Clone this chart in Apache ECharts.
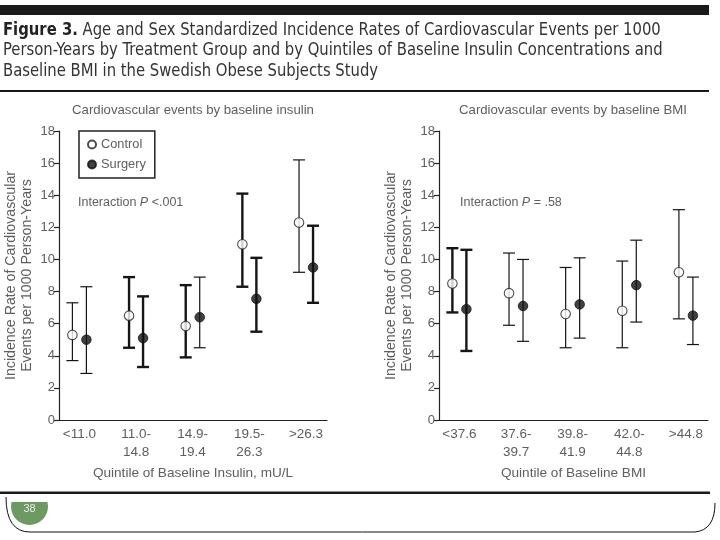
<!DOCTYPE html>
<html><head><meta charset="utf-8">
<script src="https://cdn.jsdelivr.net/npm/echarts@6/dist/echarts.min.js"></script>
<style>html,body{margin:0;padding:0;background:#fff}#c{width:720px;height:540px}</style>
</head><body><div id="c"></div>
<script>
// ---------------- data ----------------
const insulinCategories = ['<11.0', '11.0-\n14.8', '14.9-\n19.4', '19.5-\n26.3', '>26.3'];
const bmiCategories = ['<37.6', '37.6-\n39.7', '39.8-\n41.9', '42.0-\n44.8', '>44.8'];
const yTickValues = [0, 2, 4, 6, 8, 10, 12, 14, 16, 18];

const insulinControlRate = [5.3, 6.5, 5.85, 10.95, 12.3];
const insulinControlLow  = [3.7, 4.5, 3.9, 8.3, 9.2];
const insulinControlHigh = [7.3, 8.9, 8.4, 14.1, 16.2];
const insulinSurgeryRate = [5.0, 5.1, 6.4, 7.55, 9.5];
const insulinSurgeryLow  = [2.9, 3.3, 4.5, 5.5, 7.3];
const insulinSurgeryHigh = [8.3, 7.7, 8.9, 10.1, 12.1];

const bmiControlRate = [8.5, 7.9, 6.6, 6.8, 9.2];
const bmiControlLow  = [6.7, 5.9, 4.5, 4.5, 6.3];
const bmiControlHigh = [10.7, 10.4, 9.5, 9.9, 13.1];
const bmiSurgeryRate = [6.9, 7.1, 7.2, 8.4, 6.5];
const bmiSurgeryLow  = [4.3, 4.9, 5.1, 6.1, 4.7];
const bmiSurgeryHigh = [10.6, 10.0, 10.1, 11.2, 8.9];

const figureTitleLines = [
  '{b|Figure 3.} Age and Sex Standardized Incidence Rates of Cardiovascular Events per 1000',
  'Person-Years by Treatment Group and by Quintiles of Baseline Insulin Concentrations and',
  'Baseline BMI in the Swedish Obese Subjects Study'
];

// ---------------- styles ----------------
const FONT = '"Liberation Sans", Arial, sans-serif';
const TFONT = '"DejaVu Sans Condensed", "DejaVu Sans", sans-serif';
const TXT = '#5e5e5e';
const OFFSET = 7;      // px shift of each group from the category centre
const CAP = 6;         // half cap width, px
const wInsulinControl = [1.2, 2.4, 2.4, 2.4, 1.2];
const wInsulinSurgery = [1.2, 2.4, 1.2, 2.4, 2.4];
const wBmiControl = [2.4, 1.2, 1.2, 1.2, 1.2];
const wBmiSurgery = [2.4, 1.2, 1.2, 1.2, 1.2];

function idx(arr) { return arr.map((v, i) => [i + 1, v]); }

function errorBars(name, g, lows, highs, shift, weights) {
  return {
    type: 'custom', name: name, xAxisIndex: g, yAxisIndex: g, silent: true, z: 2,
    data: lows.map((l, i) => [i + 1, l, highs[i]]),
    encode: { x: 0, y: [1, 2] },
    renderItem: function (params, api) {
      const x = api.value(0);
      const lo = api.coord([x, api.value(1)]);
      const hi = api.coord([x, api.value(2)]);
      const cx = lo[0] + shift;
      const style = { stroke: '#151515', lineWidth: weights[params.dataIndex], fill: null };
      return { type: 'group', children: [
        { type: 'line', shape: { x1: cx, y1: lo[1], x2: cx, y2: hi[1] }, style: style },
        { type: 'line', shape: { x1: cx - CAP, y1: lo[1], x2: cx + CAP, y2: lo[1] }, style: style },
        { type: 'line', shape: { x1: cx - CAP, y1: hi[1], x2: cx + CAP, y2: hi[1] }, style: style }
      ]};
    }
  };
}

function points(name, g, rates, shift, filled) {
  return {
    type: 'scatter', name: name, xAxisIndex: g, yAxisIndex: g, z: 5,
    data: idx(rates), symbol: 'circle', symbolSize: 9.5, symbolOffset: [shift, 0],
    itemStyle: filled ? { color: '#111', borderColor: '#111', borderWidth: 1 }
                      : { color: '#fff', borderColor: '#222', borderWidth: 1.1 },
    emphasis: { disabled: true }
  };
}

function xAxis(g, cats, axisName, max) {
  return {
    type: 'value', gridIndex: g, min: 0.64, max: max,
    axisLine: { show: true, onZero: false, lineStyle: { color: '#222', width: 1.2 } },
    axisTick: { show: false },
    splitLine: { show: false },
    axisLabel: {
      customValues: [1, 2, 3, 4, 5],
      formatter: function (v) { return cats[Math.round(v) - 1] || ''; },
      color: TXT, fontFamily: FONT, fontSize: 13.5, lineHeight: 17.5, margin: 6
    },
    name: axisName, nameLocation: 'middle', nameGap: 44,
    nameTextStyle: { color: TXT, fontFamily: FONT, fontSize: 13.6 }
  };
}

function yAxis(g) {
  return {
    type: 'value', gridIndex: g, min: yTickValues[0], max: yTickValues[yTickValues.length - 1], interval: 2,
    axisLine: { show: true, lineStyle: { color: '#222', width: 1.2 } },
    axisTick: { show: true, length: 5, lineStyle: { color: '#222', width: 1.2 } },
    splitLine: { show: false },
    axisLabel: { color: TXT, fontFamily: FONT, fontSize: 13, margin: 4 },
    name: 'Incidence Rate of Cardiovascular\nEvents per 1000 Person-Years',
    nameLocation: 'middle', nameRotate: 90, nameGap: 24,
    nameTextStyle: { color: TXT, fontFamily: FONT, fontSize: 14.2, lineHeight: 16 }
  };
}

const chart = echarts.init(document.getElementById('c'), null, { renderer: 'canvas' });
chart.setOption({
  backgroundColor: '#fff',
  animation: false,
  title: [
    { text: 'Cardiovascular events by baseline insulin', left: 193, top: 104, textAlign: 'center', padding: 0,
      textStyle: { color: TXT, fontFamily: FONT, fontSize: 13.2, fontWeight: 'normal' } },
    { text: 'Cardiovascular events by baseline BMI', left: 573, top: 104, textAlign: 'center', padding: 0,
      textStyle: { color: TXT, fontFamily: FONT, fontSize: 13.2, fontWeight: 'normal' } }
  ],
  legend: {
    data: [{ name: 'Control', icon: 'circle' }, { name: 'Surgery', icon: 'circle' }],
    orient: 'vertical', left: 79, top: 131, itemWidth: 8, itemHeight: 8, itemGap: 7,
    padding: [7, 9, 7, 8],
    borderColor: '#222', borderWidth: 1.5,
    textStyle: { color: TXT, fontFamily: FONT, fontSize: 12.8 },
    selectedMode: false
  },
  grid: [
    { left: 59, top: 131, width: 268, height: 289 },
    { left: 439, top: 131, width: 269, height: 289 }
  ],
  xAxis: [
    xAxis(0, insulinCategories, 'Quintile of Baseline Insulin, mU/L', 5.37),
    xAxis(1, bmiCategories, 'Quintile of Baseline BMI', 5.39)
  ],
  yAxis: [yAxis(0), yAxis(1)],
  series: [
    errorBars('ciIC', 0, insulinControlLow, insulinControlHigh, -OFFSET, wInsulinControl),
    errorBars('ciIS', 0, insulinSurgeryLow, insulinSurgeryHigh, OFFSET, wInsulinSurgery),
    errorBars('ciBC', 1, bmiControlLow, bmiControlHigh, -OFFSET, wBmiControl),
    errorBars('ciBS', 1, bmiSurgeryLow, bmiSurgeryHigh, OFFSET, wBmiSurgery),
    points('Control', 0, insulinControlRate, -OFFSET, false),
    points('Surgery', 0, insulinSurgeryRate, OFFSET, true),
    points('Control', 1, bmiControlRate, -OFFSET, false),
    points('Surgery', 1, bmiSurgeryRate, OFFSET, true)
  ],
  graphic: [
    { type: 'rect', shape: { x: 0, y: 5, width: 709, height: 10 }, style: { fill: '#1a1a1a' } },
    { type: 'rect', shape: { x: 0, y: 90, width: 709, height: 2 }, style: { fill: '#1a1a1a' } },
    { type: 'text', x: 3, y: 20, scaleX: 0.915, scaleY: 1, style: {
        text: figureTitleLines.join('\n'), fill: '#333', font: '18px ' + TFONT, lineHeight: 20.5,
        rich: { b: { fill: '#222', font: 'bold 18px ' + TFONT, lineHeight: 20.5 } } } },
    { type: 'text', x: 78, y: 196, style: {
        text: 'Interaction {i|P} <.001', fill: TXT, font: '12.5px ' + FONT,
        rich: { i: { fill: TXT, font: 'italic 12.5px ' + FONT } } } },
    { type: 'text', x: 460, y: 196, style: {
        text: 'Interaction {i|P} = .58', fill: TXT, font: '12.5px ' + FONT,
        rich: { i: { fill: TXT, font: 'italic 12.5px ' + FONT } } } },
    { type: 'circle', shape: { cx: 29.5, cy: 506.5, r: 18.5 }, style: { fill: '#6c9a62' }, z: 1 },
    { type: 'rect', shape: { x: 8, y: 486, width: 45, height: 16 }, style: { fill: '#fff' }, z: 2 },
    { type: 'text', x: 29.5, y: 503, z: 3, style: { text: '38', fill: '#e8f0e4', font: '11px ' + FONT, align: 'center', verticalAlign: 'top' } },
    { type: 'rect', shape: { x: 0, y: 491.5, width: 710, height: 2.5 }, style: { fill: '#1a1a1a' }, z: 4 },
    { type: 'bezierCurve', z: 4, shape: { x1: 6, y1: 497, cpx1: 6, cpy1: 532, x2: 30, y2: 532 },
      style: { stroke: '#111', lineWidth: 1, fill: null } },
    { type: 'line', z: 4, shape: { x1: 30, y1: 532, x2: 695, y2: 532 }, style: { stroke: '#111', lineWidth: 1 } },
    { type: 'bezierCurve', z: 4, shape: { x1: 695, y1: 532, cpx1: 715, cpy1: 530, x2: 715, y2: 503 },
      style: { stroke: '#111', lineWidth: 1, fill: null } }
  ]
});
</script>
</body></html>
